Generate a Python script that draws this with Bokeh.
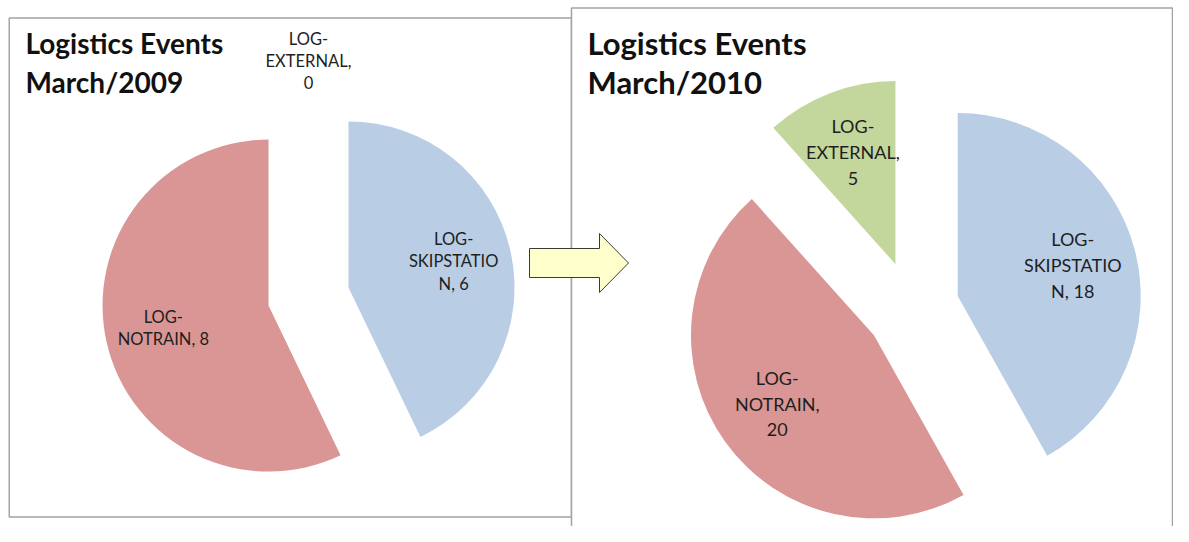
import math
from bokeh.plotting import figure
from bokeh.models import Range1d, ColumnDataSource
from bokeh.core.properties import value
from bokeh.embed import file_html
from bokeh.resources import INLINE

# ---------------- data ----------------
categories = ["LOG-SKIPSTATION", "LOG-NOTRAIN", "LOG-EXTERNAL"]
values_2009 = [6, 8, 0]
values_2010 = [18, 20, 5]
title_line1 = "Logistics Events"
title_2009 = "March/2009"
title_2010 = "March/2010"
slice_colors = ["#B9CDE5", "#D99694", "#C3D69B"]

# ---------------- layout (pixels of the picture) ----------------
W, H = 1173, 526
PAGE_H = 542


def Y(sy):
    """picture y (down) -> data y (up)"""
    return PAGE_H - sy


def wrap_label(cat, val, width=10):
    text = f"{cat}, {val}"
    pieces = []
    words = text.split(" ")
    for wi, w in enumerate(words):
        sub = w.split("-")
        for si, s in enumerate(sub):
            tok = s + ("-" if si < len(sub) - 1 else "")
            joiner = "" if si > 0 else (" " if wi > 0 else "")
            if tok:
                pieces.append((tok, joiner))
    lines, cur = [], ""
    for tok, j in pieces:
        if cur and len(cur + j + tok) <= width:
            cur = cur + j + tok
        else:
            if cur:
                lines.append(cur)
            cur = tok
            while len(cur) > width:
                lines.append(cur[:width])
                cur = cur[width:]
    lines.append(cur)
    return "\n".join(lines)


p = figure(width=W, height=H, x_range=Range1d(0, W), y_range=Range1d(Y(H), Y(0)),
           output_backend="svg", toolbar_location=None, min_border=0)
p.axis.visible = False
p.grid.visible = False
p.outline_line_color = None
p.background_fill_color = "white"
p.border_fill_color = "white"

BORDER = "#A3A3A3"
# left chart frame
p.quad(left=8.75, right=571, top=Y(17.5), bottom=Y(516.5), fill_color="white",
       line_color=BORDER, line_width=1.5)
# right chart frame
p.quad(left=571, right=1172, top=Y(7.5), bottom=Y(580), fill_color="white",
       line_color=BORDER, line_width=1.5)

# arrow between charts
ax = [529, 599, 599, 628, 599, 599, 529]
ay = [248, 248, 233, 262.5, 292, 277, 277]
p.patch(x=ax, y=[Y(v) for v in ay], fill_color="#FFFFCC", line_color="#3A3A3A", line_width=1)

charts = [
    dict(values=values_2009, sub=title_2009, cx=308, cy=296, r=166, explode=41,
         font=16.5, line_h=1.11, tx=25, tsize=28, label_shift=-2),
    dict(values=values_2010, sub=title_2010, cx=911.7, cy=307.5, r=183, explode=47,
         font=18, line_h=1.17, tx=587, tsize=31, label_shift=-1),
]

for ch in charts:
    vals = ch["values"]
    tot = float(sum(vals))
    cx, cy = ch["cx"], Y(ch["cy"])
    a = 0.0
    wx, wy, ws, we, wc = [], [], [], [], []
    lx, ly, lt = [], [], []
    for cat, v, col in zip(categories, vals, slice_colors):
        sweep = 360.0 * v / tot
        a1, a2 = a, a + sweep
        mid = math.radians((a1 + a2) / 2.0)
        dx, dy = math.sin(mid), math.cos(mid)
        scx, scy = cx + ch["explode"] * dx, cy + ch["explode"] * dy
        if v > 0:
            wx.append(scx)
            wy.append(scy)
            ws.append(math.radians(90 - a2))
            we.append(math.radians(90 - a1))
            wc.append(col)
            rr = 0.65 * ch["r"]
        else:
            rr = 1.16 * ch["r"]
        lx.append(scx + rr * dx)
        ly.append(scy + rr * dy - ch["label_shift"])
        lt.append(wrap_label(cat, v))
        a = a2
    src = ColumnDataSource(dict(x=wx, y=wy, s=ws, e=we, c=wc))
    p.wedge(x="x", y="y", radius=ch["r"], start_angle="s", end_angle="e",
            fill_color="c", line_color=None, source=src)
    lsrc = ColumnDataSource(dict(x=lx, y=ly, t=lt))
    p.text(x="x", y="y", text="t", source=lsrc, text_align="center",
           text_baseline="middle", text_font=value("Lato"),
           text_font_size=f"{ch['font']}px", text_color="#1E1E1E",
           text_line_height=ch["line_h"])
    p.text(x=[ch["tx"], ch["tx"]], y=[Y(42), Y(81)], text=[title_line1, ch["sub"]],
           text_align="left", text_baseline="alphabetic", text_font=value("Lato"),
           text_font_style="bold", text_font_size=f"{ch['tsize']}px", text_color="#111111")

open("out.html", "w").write(file_html(p, INLINE))
